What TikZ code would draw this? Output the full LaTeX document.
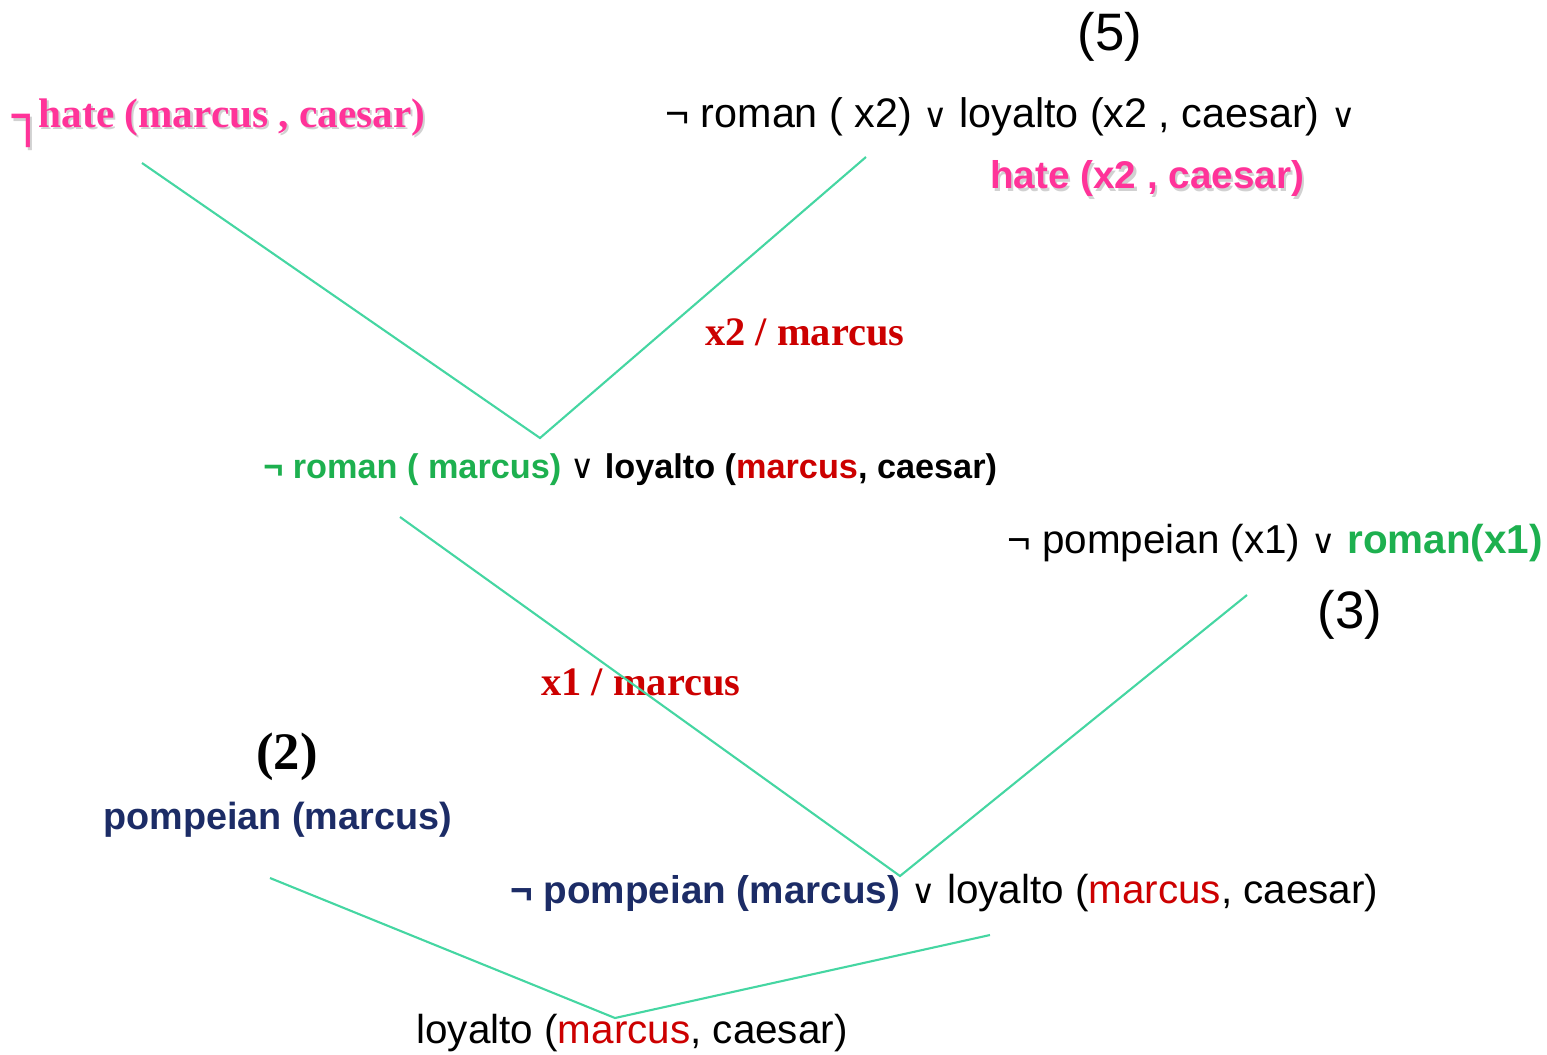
\documentclass[tikz,border=0pt]{standalone}
\usepackage{fontspec}
\setmainfont{Liberation Sans}
\newfontfamily\serif{Liberation Serif}
\newfontfamily\symfont{DejaVu Sans}

\definecolor{hotpink}{HTML}{FF3399}
\definecolor{leafgreen}{HTML}{1DB04F}
\definecolor{substred}{HTML}{CC0000}
\definecolor{navyblue}{HTML}{1C2C66}
\definecolor{edgegreen}{HTML}{45D6A2}

% small helpers for the clause texts
\newcommand{\orv}{{\symfont\mdseries\fontsize{19}{20}\selectfont ∨}}
\newcommand{\negs}{¬}
\newcommand{\shadowed}[1]{\makebox[0pt][l]{\kern1.2pt\raisebox{-1.2pt}{\textcolor{black!18}{#1}}}#1}

\tikzset{
  clause/.style={inner sep=0pt, anchor=west, font=\fontsize{23}{28}\selectfont},
  tag/.style={inner sep=0pt, font=\fontsize{30}{36}\selectfont},
  subst/.style={inner sep=0pt, anchor=west, text=substred,
    font=\fontsize{23}{28}\selectfont\serif\bfseries},
  link/.style={edgegreen, line width=1.2pt},
}

\begin{document}
\begin{tikzpicture}[x=0.02cm, y=-0.02cm]
    \useasboundingbox (0,0) rectangle (1547,1054);

    % Top row: the two parent clauses
    \node[tag] (lab5) at (1110,37) {(5)};
    \node[clause, text=hotpink, font=\fontsize{23.5}{28}\selectfont\serif\bfseries]
        (neghate) at (12,119)
        {\shadowed{\smash{\raisebox{-4pt}{\symfont\fontsize{30}{30}\selectfont ┐}}\kern-3pt hate (marcus , caesar)}};
    \node[clause, font=\fontsize{23.5}{28}\selectfont] (clause5) at (665,117)
        {\negs{} roman ( x2) \orv{} loyalto (x2 , caesar) \orv};
    \node[clause, text=hotpink, font=\fontsize{22}{28}\selectfont\bfseries]
        (hate5) at (990,180) {\shadowed{hate (x2 , caesar)}};
    \node[subst] (subst2) at (705,332) {x2 / marcus};

    % First resolvent
    \node[clause, font=\fontsize{19.5}{24}\selectfont\bfseries] (resolv1) at (263,470)
        {\textcolor{leafgreen}{\negs{} roman ( marcus)} \orv{}
         loyalto (\textcolor{substred}{marcus}, caesar)};
    \node[clause] (clause3) at (1007,543)
        {\negs{} pompeian (x1) \orv{} \textcolor{leafgreen}{\bfseries roman(x1)}};
    \node[tag] (lab3) at (1350,615) {(3)};
    \node[subst] (subst1) at (541,682) {x1 / marcus};

    % Second resolvent and fact (2)
    \node[tag, font=\fontsize{30}{36}\selectfont\serif\bfseries] (lab2) at (287,757) {(2)};
    \node[clause, text=navyblue, font=\fontsize{21.5}{28}\selectfont\bfseries]
        (fact2) at (103,820) {pompeian (marcus)};
    \node[clause] (resolv2) at (510,893)
        {\textcolor{navyblue}{\fontsize{22}{28}\selectfont\bfseries\negs{} pompeian (marcus)} \orv{}
         loyalto (\textcolor{substred}{marcus}, caesar)};
    \node[clause, anchor=center] (result) at (632,1033)
        {loyalto (\textcolor{substred}{marcus}, caesar)};

    % Resolution steps
    \coordinate (top1) at (142,163);
    \coordinate (top2) at (866,157);
    \coordinate (join1) at (540,438);
    \coordinate (mid1) at (400,517);
    \coordinate (mid2) at (1247,595);
    \coordinate (join2) at (900,876);
    \coordinate (low1) at (270,878);
    \coordinate (low2) at (990,935);
    \coordinate (join3) at (615,1018);

    \draw[link] (top1) -- (join1) -- (top2);
    \draw[link] (mid1) -- (join2) -- (mid2);
    \draw[link] (low1) -- (join3) -- (low2);
\end{tikzpicture}
\end{document}
